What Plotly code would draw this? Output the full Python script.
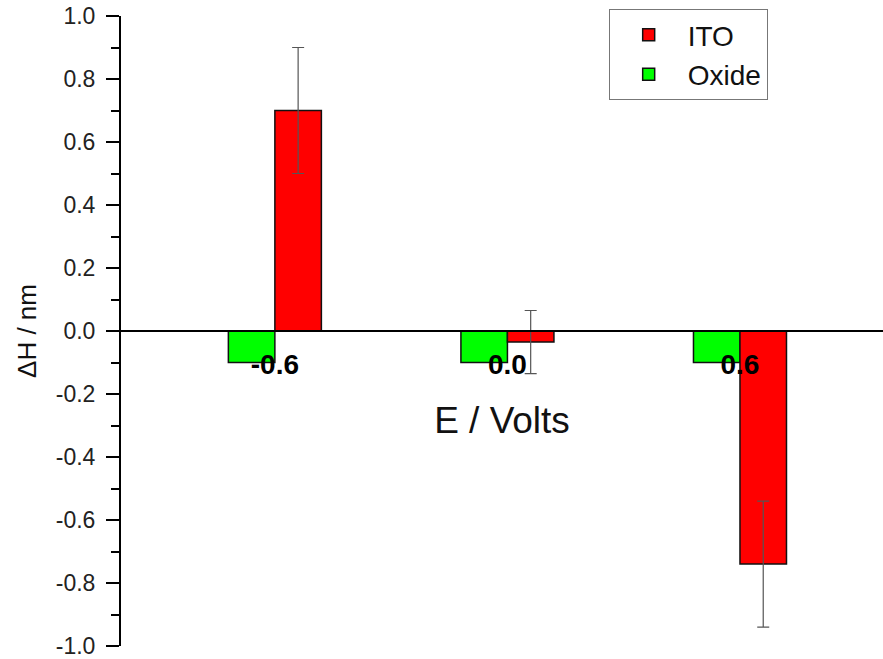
import plotly.graph_objects as go

# ---- data ----
potentials = [-0.6, 0.0, 0.6]
potential_labels = ["-0.6", "0.0", "0.6"]
ito_values = [0.70, -0.035, -0.74]
ito_errors = [0.20, 0.10, 0.20]
oxide_values = [-0.10, -0.10, -0.10]
y_tickvals = [-1.0, -0.8, -0.6, -0.4, -0.2, 0.0, 0.2, 0.4, 0.6, 0.8, 1.0]
y_ticktext = ["-1.0", "-0.8", "-0.6", "-0.4", "-0.2", "0.0", "0.2", "0.4", "0.6", "0.8", "1.0"]

FONT = "Arial, Liberation Sans, sans-serif"
BAR_W = 0.12

fig = go.Figure()
fig.add_trace(go.Bar(
    x=potentials, y=oxide_values, name="Oxide",
    width=BAR_W, offset=-BAR_W,
    marker=dict(color="#00FF00", line=dict(color="#111111", width=1.5)),
))
fig.add_trace(go.Bar(
    x=potentials, y=ito_values, name="ITO",
    width=BAR_W, offset=0,
    marker=dict(color="#FF0000", line=dict(color="#111111", width=1.5)),
    error_y=dict(type="data", array=ito_errors, visible=True,
                 color="#555555", thickness=1.2, width=6),
))

fig.update_layout(
    width=883, height=659,
    margin=dict(l=121, r=0, t=16, b=13),
    plot_bgcolor="white", paper_bgcolor="white",
    barmode="overlay",
    font=dict(family=FONT, color="#111111"),
    showlegend=True,
    legend=dict(
        x=0.640, y=1.011, xanchor="left", yanchor="top",
        traceorder="reversed",
        itemwidth=68,
        bgcolor="white", bordercolor="#777777", borderwidth=1,
        font=dict(family=FONT, size=28, color="#111111"),
    ),
    xaxis=dict(
        range=[-0.997, 0.969],
        anchor="free", position=0.5,
        automargin=False,
        showline=True, linecolor="black", linewidth=2,
        showgrid=False, zeroline=False,
        ticks="",
        tickmode="array", tickvals=potentials, ticktext=potential_labels,
        tickfont=dict(family=FONT, size=28, color="black", weight="bold"),
        ticklabelstandoff=8,
        title=dict(text="E / Volts", font=dict(family=FONT, size=37, color="#111111"),
                   standoff=28),
    ),
    yaxis=dict(
        range=[-1.0, 1.0],
        automargin=False,
        showline=True, linecolor="black", linewidth=2,
        showgrid=False, zeroline=False,
        ticks="outside", ticklen=13, tickwidth=2, tickcolor="black",
        tickmode="array", tickvals=y_tickvals, ticktext=y_ticktext,
        tickfont=dict(family=FONT, size=23, color="#222222"),
        ticklabelstandoff=6,
        ticklabeloverflow="allow",
        minor=dict(dtick=0.1, ticks="outside", ticklen=8, tickwidth=2, tickcolor="black"),
        title=dict(text="ΔH / nm", font=dict(family=FONT, size=26, color="#111111"),
                   standoff=12),
    ),
)

fig.write_html(
    "out.html",
    config={"displayModeBar": False},
    post_script="document.body.style.margin='0';document.body.style.overflow='hidden';",
)
